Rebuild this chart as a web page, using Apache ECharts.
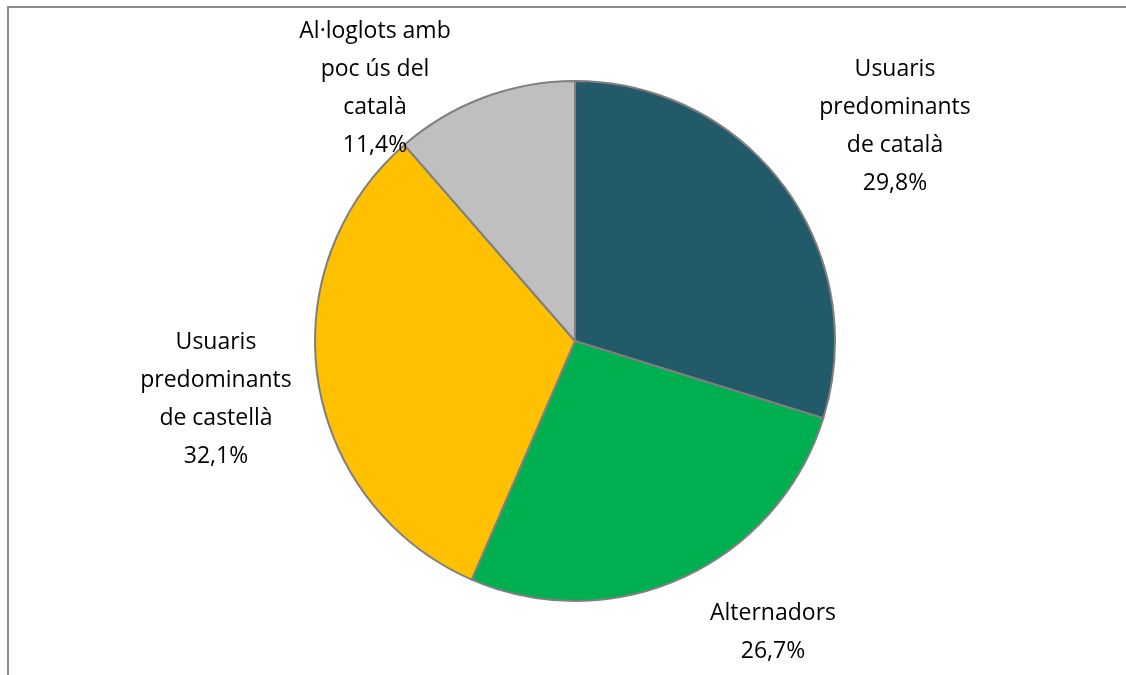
<!DOCTYPE html>
<html>
<head>
<meta charset="utf-8">
<script src="https://cdn.jsdelivr.net/npm/echarts@6/dist/echarts.min.js"></script>
<style>
  html, body { margin: 0; padding: 0; background: #fff; }
  #chart { width: 1126px; height: 675px; }
</style>
</head>
<body>
<div id="chart"></div>
<script>
// dades del gràfic
var categories = [
  'Usuaris\npredominants\nde català',
  'Alternadors',
  'Usuaris\npredominants\nde castellà',
  'Al·loglots amb\npoc ús del\ncatalà'
];
var values = [29.8, 26.7, 32.1, 11.4];
var colors = ['#235A69', '#00B050', '#FFC000', '#BFBFBF'];

// posició (centre del text) de cada etiqueta
var labelPos = [
  [895, 126],
  [773, 632],
  [216, 399],
  [375, 88]
];

var chart = echarts.init(document.getElementById('chart'));

var option = {
  animation: false,
  graphic: [{
    type: 'rect',
    shape: { x: 8, y: 7, width: 1300, height: 900 },
    style: { fill: 'none', stroke: '#8c8c8c', lineWidth: 2 }
  }],
  series: [{
    type: 'pie',
    center: [575, 341],
    radius: [0, 260],
    startAngle: 90,
    clockwise: true,
    data: categories.map(function (name, i) {
      return { name: name, value: values[i], itemStyle: { color: colors[i] } };
    }),
    itemStyle: { borderColor: '#7f7f7f', borderWidth: 2 },
    label: {
      show: true,
      position: 'outside',
      formatter: function (p) {
        return p.name + '\n' + p.value.toFixed(1).replace('.', ',') + '%';
      },
      fontFamily: 'Open Sans',
      fontSize: 23,
      color: '#000',
      lineHeight: 38,
      align: 'center'
    },
    labelLine: { show: false },
    labelLayout: function (params) {
      var pos = labelPos[params.dataIndex];
      return { x: pos[0], y: pos[1], align: 'center', verticalAlign: 'middle' };
    }
  }]
};

chart.setOption(option);
</script>
</body>
</html>
